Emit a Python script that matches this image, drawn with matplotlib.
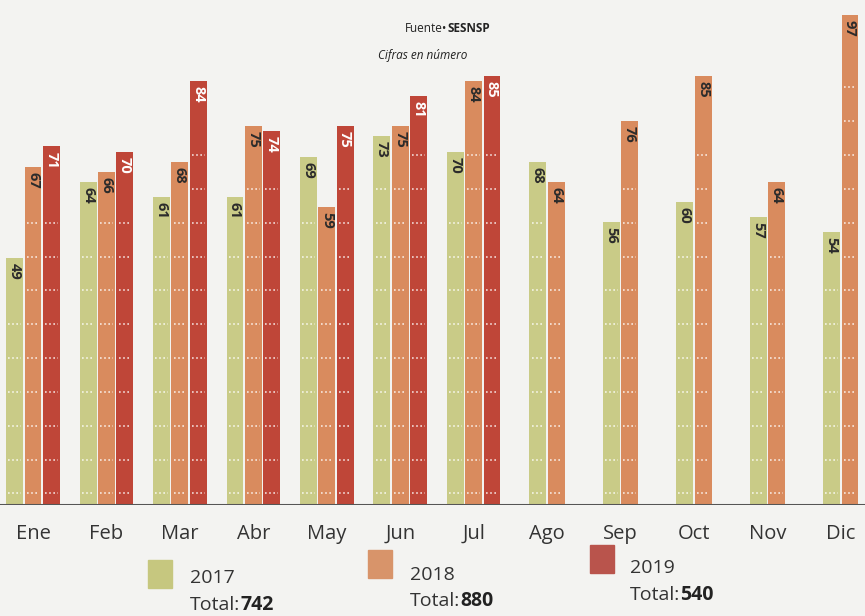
import numpy as np
import matplotlib
matplotlib.use("Agg")
import matplotlib.pyplot as plt

months = ["Ene", "Feb", "Mar", "Abr", "May", "Jun", "Jul", "Ago", "Sep", "Oct", "Nov", "Dic"]
v2017 = [49, 64, 61, 61, 69, 73, 70, 68, 56, 60, 57, 54]
v2018 = [67, 66, 68, 75, 59, 75, 84, 64, 76, 85, 64, 97]
v2019 = [71, 70, 84, 74, 75, 81, 85]
years = ["2017", "2018", "2019"]
totals = [742, 880, 540]

colors = ["#c9cb87", "#d98b5e", "#bf4638"]
swatch = ["#c6c77f", "#d8946a", "#b9544c"]
txt_col = ["#2b2b2b", "#2b2b2b", "white"]

plt.rcParams["font.family"] = ["Open Sans", "DejaVu Sans"]

fig = plt.figure(figsize=(8.65, 6.16), dpi=100, facecolor="#f3f3f1")
ax = fig.add_axes([0, 1 - 505 / 616, 1, 505 / 616])
ax.set_facecolor("#f3f3f1")
ax.set_xlim(-0.45, 11.33)
ax.set_ylim(0, 100)
for s in ax.spines.values():
    s.set_visible(False)
ax.set_xticks([]); ax.set_yticks([])

series = [v2017, v2018, v2019]
step, w = 0.25, 0.23
rows = np.arange(2.3, 100, 6.7)
for i, m in enumerate(months):
    present = [k for k in range(3) if i < len(series[k])]
    n = len(present)
    for j, k in enumerate(present):
        x = i + (j - (n - 1) / 2) * step
        v = series[k][i]
        ax.bar(x, v, width=w, color=colors[k], zorder=2)
        for r in rows:
            if r < v - 10:
                ax.plot([x - w / 2 + 0.03, x + w / 2 - 0.03], [r, r], color="white",
                        lw=1.2, ls=(0, (1, 1.5)), alpha=0.8, zorder=3)
        ax.text(x, v - 1, str(v), rotation=-90, ha="center", va="top",
                fontsize=10.5, fontweight="bold", color=txt_col[k], zorder=4)
    ax.text(i, -3.8, m, ha="center", va="top", fontsize=14.5, color="#333333",
            clip_on=False)

ax.axhline(0, color="#555555", lw=2.2, zorder=5)

t = fig.text(405 / 865, 1 - 28 / 616, "Fuente•", fontsize=8.5, ha="left", va="center", color="#222222")
fig.text(0, 0, "SESNSP", fontsize=8.5, fontweight="bold", ha="left", va="center", color="#222222")
fig.texts.pop()
fig.add_artist(matplotlib.text.Annotation("SESNSP", xy=(1, 0.5), xycoords=t, ha="left", va="center",
                                          fontsize=8.5, fontweight="bold", color="#222222"))
fig.text(378 / 865, 1 - 55 / 616, "Cifras en número", fontsize=8.5, style="italic", ha="left", va="center", color="#222222")

# legend
leg = [(148, 560, 190, 578, 605), (368, 550, 410, 575, 601), (590, 545, 630, 568, 595)]
for k, (sx, sy, tx, ty, ty2) in enumerate(leg):
    fig.patches.append(plt.Rectangle((sx / 865, 1 - (sy + 28) / 616), 24 / 865, 28 / 616,
                                     transform=fig.transFigure, color=swatch[k]))
    fig.text(tx / 865, 1 - ty / 616, years[k], fontsize=14, ha="left", va="center", color="#333333")
    tt = fig.text(tx / 865, 1 - ty2 / 616, "Total:", fontsize=14, ha="left", va="center", color="#333333")
    fig.add_artist(matplotlib.text.Annotation(str(totals[k]), xy=(1, 0.5), xycoords=tt,
                                              ha="left", va="center", fontsize=14,
                                              fontweight="bold", color="#222222"))

fig.savefig("out.png", dpi=100, facecolor=fig.get_facecolor())
